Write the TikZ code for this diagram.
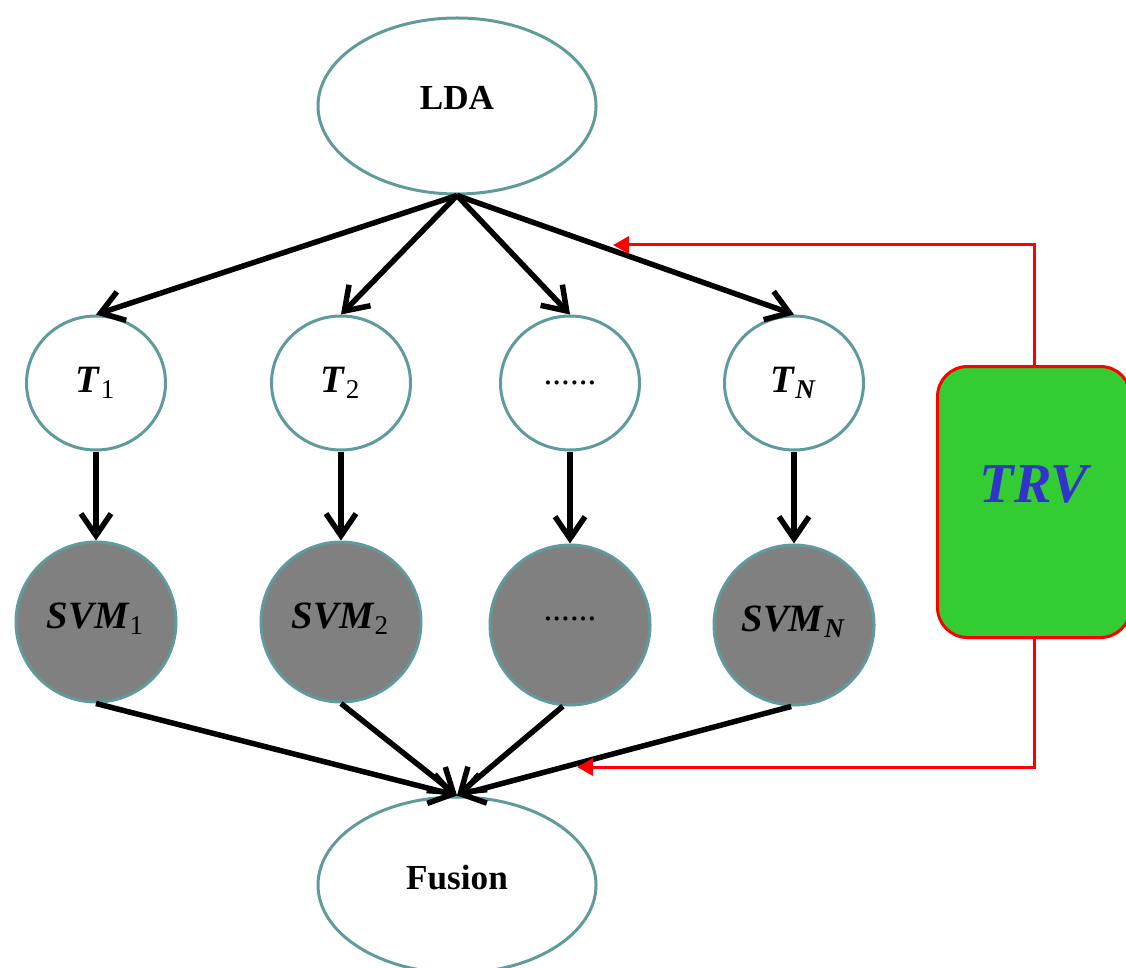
\documentclass[tikz,border=0pt]{standalone}
\usepackage{fontspec}
\setmainfont{Liberation Serif}
\usetikzlibrary{shapes,arrows.meta}

\definecolor{rim}{RGB}{95,155,155}
\definecolor{svmgray}{RGB}{128,128,128}
\definecolor{trvgreen}{RGB}{51,204,51}
\definecolor{trvblue}{RGB}{51,51,204}

\tikzset{
  bigoval/.style={ellipse,draw=rim,line width=.3mm,minimum width=27.8mm,minimum height=17.6mm,inner sep=0pt,text depth=1.6mm,font=\bfseries},
  topic/.style={ellipse,draw=rim,line width=.3mm,fill=white,minimum width=13.9mm,minimum height=13.4mm,inner sep=0pt,font=\fontsize{11}{13}\selectfont},
  svmnode/.style={circle,draw=rim,fill=svmgray,line width=.3mm,minimum size=16mm,inner sep=0pt,text depth=1.2mm,font=\fontsize{11}{13}\selectfont},
  trvbox/.style={rectangle,rounded corners=3mm,draw=red,fill=trvgreen,line width=.3mm,minimum width=19.3mm,minimum height=27.1mm},
  flow/.style={->,line width=.55mm},
  back/.style={-{Triangle[length=1.6mm,width=1.7mm]},red,line width=.3mm}
}

\newcommand{\bi}[1]{\textbf{\textit{#1}}}

\begin{document}
\begin{tikzpicture}[x=.1mm,y=-.1mm,>={Straight Barb[length=2.2mm,width=3mm]}]
\useasboundingbox (0,0) rectangle (1126,967);

\node[bigoval] (lda) at (457,106) {LDA};
\node[bigoval] (fusion) at (457,885) {Fusion};

\node[topic] (t1) at (96,383) {\bi{T}\textsubscript{1}};
\node[topic] (t2) at (341,383) {\bi{T}\textsubscript{2}};
\node[topic] (t3) at (570,383) {\normalsize ......};
\node[topic] (tn) at (794,383) {\bi{T}\textsubscript{\bi{N}}};

\node[svmnode] (svm1) at (96,622) {\bi{SVM}\textsubscript{1}};
\node[svmnode] (svm2) at (341,622) {\bi{SVM}\textsubscript{2}};
\node[svmnode] (svm3) at (570,625) {\normalsize ......};
\node[svmnode] (svmn) at (794,625) {\bi{SVM}\textsubscript{\bi{N}}};

\node[trvbox] (trv) at (1034,502) {};
\node[text=trvblue,font=\fontsize{16}{18}\selectfont] (trvtext) at (1036,485) {\bi{TRV}};

\coordinate (fb1) at (613,245);
\coordinate (fb2) at (577,767);

\draw[flow] (lda.south) -- (t1.north); % lda - t1
\draw[flow] (lda.south) -- (t2.north); % lda - t2
\draw[flow] (lda.south) -- (t3.north); % lda - dots
\draw[flow] (lda.south) -- (tn.north); % lda - tn

\draw[flow] (t1.south) -- (svm1.north); % t1 - svm1
\draw[flow] (t2.south) -- (svm2.north); % t2 - svm2
\draw[flow] (t3.south) -- (svm3.north); % dots - dots
\draw[flow] (tn.south) -- (svmn.north); % tn - svmn

\draw[flow] (svm1.south) -- (fusion.north); % svm1 - fusion
\draw[flow] (svm2.south) -- (fusion.north); % svm2 - fusion
\draw[flow] (svm3.-95) -- (fusion.north); % dots - fusion
\draw[flow] (svmn.-92) -- (fusion.north); % svmn - fusion

\draw[back] (trv.north) |- (fb1); % trv - top
\draw[back] (trv.south) |- (fb2); % trv - bottom

\end{tikzpicture}
\end{document}
